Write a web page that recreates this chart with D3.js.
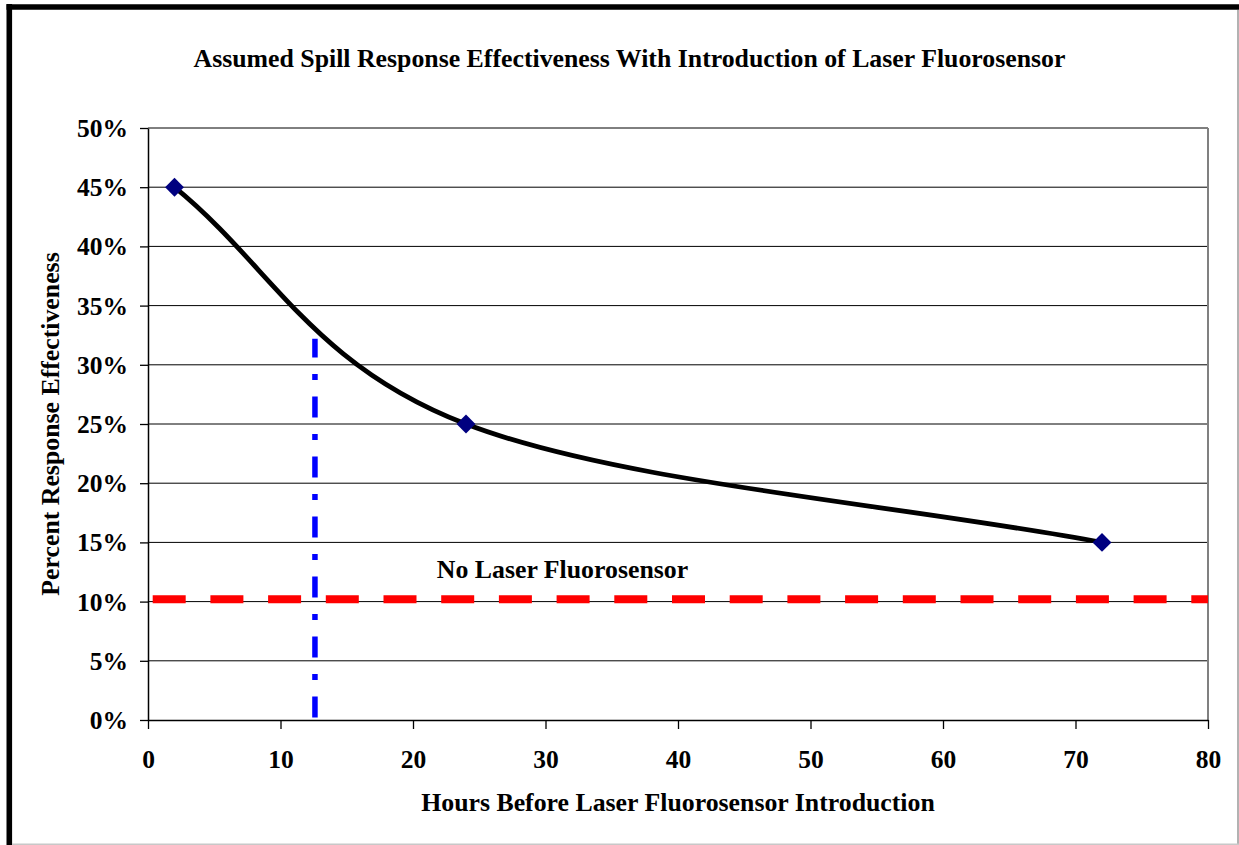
<!DOCTYPE html>
<html>
<head>
<meta charset="utf-8">
<script src="https://cdn.jsdelivr.net/npm/d3@7"></script>
<style>
  body { margin: 0; background: #fff; }
  svg text { font-family: "Liberation Serif", "Times New Roman", serif; font-weight: bold; fill: #000; }
</style>
</head>
<body>
<div id="chart"></div>
<script>
// chart data
var hours = [2, 24, 72];
var effectiveness = [0.45, 0.25, 0.15];
var baselineHours = [0, 80];
var baselineValue = [0.102, 0.102];
var markerHours = [12.6, 12.6];
var markerValue = [0, 0.322];
var xTicks = [0, 10, 20, 30, 40, 50, 60, 70, 80];
var yTicks = [0, 0.05, 0.1, 0.15, 0.2, 0.25, 0.3, 0.35, 0.4, 0.45, 0.5];

var titleText = "Assumed Spill Response Effectiveness With Introduction of Laser Fluorosensor";
var xLabelText = "Hours Before Laser Fluorosensor Introduction";
var yLabelText = "Percent Response Effectiveness";
var baselineLabel = "No Laser Fluorosensor";

// sets chart bounds
var svgWidth = 1239;
var svgHeight = 845;
var margin = { top: 128, right: 31, bottom: 125, left: 148 };
var width = svgWidth - margin.left - margin.right;
var height = svgHeight - margin.top - margin.bottom;

// spreadsheet-style smoothing: catmull-rom inside, end tangents a third of the first/last chord
function curveSmooth(context) {
  var pts;
  return {
    areaStart: function() {},
    areaEnd: function() {},
    lineStart: function() { pts = []; },
    point: function(px, py) { pts.push([+px, +py]); },
    lineEnd: function() {
      var n = pts.length;
      if (!n) return;
      context.moveTo(pts[0][0], pts[0][1]);
      if (n === 1) return;
      if (n === 2) { context.lineTo(pts[1][0], pts[1][1]); return; }
      function tangent(i) {
        if (i === 0) return [(pts[1][0] - pts[0][0]) / 3, (pts[1][1] - pts[0][1]) / 3];
        if (i === n - 1) return [(pts[n - 1][0] - pts[n - 2][0]) / 3, (pts[n - 1][1] - pts[n - 2][1]) / 3];
        return [(pts[i + 1][0] - pts[i - 1][0]) / 6, (pts[i + 1][1] - pts[i - 1][1]) / 6];
      }
      for (var i = 0; i < n - 1; i++) {
        var t0 = tangent(i), t1 = tangent(i + 1);
        context.bezierCurveTo(
          pts[i][0] + t0[0], pts[i][1] + t0[1],
          pts[i + 1][0] - t1[0], pts[i + 1][1] - t1[1],
          pts[i + 1][0], pts[i + 1][1]);
      }
    }
  };
}

var svg = d3.select("#chart")
  .append("svg")
  .attr("width", svgWidth)
  .attr("height", svgHeight);

// outer frame: heavy left/top, light right/bottom
svg.append("line").attr("x1", 9.3).attr("x2", 9.3).attr("y1", 4).attr("y2", 845)
  .attr("stroke", "#000").attr("stroke-width", 5.6);
svg.append("line").attr("x1", 6.5).attr("x2", 1239).attr("y1", 7).attr("y2", 7)
  .attr("stroke", "#000").attr("stroke-width", 5.6);
svg.append("line").attr("x1", 1238).attr("x2", 1238).attr("y1", 10).attr("y2", 845)
  .attr("stroke", "#999").attr("stroke-width", 1.5);
svg.append("line").attr("x1", 12).attr("x2", 1239).attr("y1", 844.3).attr("y2", 844.3)
  .attr("stroke", "#c8c8c8").attr("stroke-width", 1.5);

var chartGroup = svg.append("g")
  .attr("transform", `translate(${margin.left}, ${margin.top})`);

var x = d3.scaleLinear().domain([0, 80]).range([0, width]);
var y = d3.scaleLinear().domain([0, 0.5]).range([height, 0]);

// horizontal gridlines
chartGroup.append("g")
  .selectAll("line")
  .data(yTicks.slice(1))
  .enter()
  .append("line")
  .attr("x1", 0)
  .attr("x2", width)
  .attr("y1", d => y(d))
  .attr("y2", d => y(d))
  .attr("stroke", "#000")
  .attr("stroke-width", 1);

// right border of plot area
chartGroup.append("line")
  .attr("x1", width).attr("x2", width)
  .attr("y1", 0).attr("y2", height)
  .attr("stroke", "#808080")
  .attr("stroke-width", 2);

// axes
var bottomAxis = d3.axisBottom(x).tickValues(xTicks).tickSizeInner(9).tickSizeOuter(0);
var leftAxis = d3.axisLeft(y).tickValues(yTicks).tickFormat(d3.format(".0%"))
  .tickSizeInner(8).tickSizeOuter(0).tickPadding(12);

var xAxis = chartGroup.append("g")
  .attr("transform", `translate(0, ${height})`)
  .call(bottomAxis);
var yAxis = chartGroup.append("g").call(leftAxis);

[xAxis, yAxis].forEach(function(g) {
  g.selectAll(".domain").attr("stroke", "#000").attr("stroke-width", 1.5);
  g.selectAll(".tick line").attr("stroke", "#000").attr("stroke-width", 1.3);
  g.selectAll("text")
    .attr("font-family", "Liberation Serif, Times New Roman, serif")
    .attr("font-weight", "bold")
    .attr("font-size", "25.5px")
    .attr("fill", "#000");
});
xAxis.selectAll("text").attr("y", 48).attr("dy", null);
yAxis.selectAll("text").attr("dy", "0.33em");

// red "no laser fluorosensor" level
var flatLine = d3.line()
  .x(d => x(d[0]))
  .y(d => y(d[1]));

chartGroup.append("path")
  .datum(d3.zip(baselineHours, baselineValue))
  .attr("d", flatLine)
  .attr("fill", "none")
  .attr("stroke", "#ff0000")
  .attr("stroke-width", 8)
  .attr("stroke-dasharray", "33,24.7")
  .attr("stroke-dashoffset", 53);

chartGroup.append("text")
  .attr("x", x(21.8))
  .attr("y", y(baselineValue[0]) - 21.5)
  .attr("font-size", "25.8px")
  .text(baselineLabel);

// blue dash-dot marker line, drawn bottom up
chartGroup.append("path")
  .datum(d3.zip(markerHours, markerValue))
  .attr("d", flatLine)
  .attr("fill", "none")
  .attr("stroke", "#0000ff")
  .attr("stroke-width", 5.5)
  .attr("stroke-dasharray", "21,16.5,6,16.5")
  .attr("stroke-dashoffset", -2.5);

// smoothed effectiveness curve
var curveLine = d3.line()
  .x(d => x(d[0]))
  .y(d => y(d[1]))
  .curve(curveSmooth);

var points = d3.zip(hours, effectiveness);

chartGroup.append("path")
  .datum(points)
  .attr("d", curveLine)
  .attr("fill", "none")
  .attr("stroke", "#000")
  .attr("stroke-width", 4.8);

// diamond markers
chartGroup.selectAll(".pt")
  .data(points)
  .enter()
  .append("path")
  .attr("class", "pt")
  .attr("d", d3.symbol(d3.symbolSquare, 178))
  .attr("transform", d => `translate(${x(d[0])}, ${y(d[1])}) rotate(45)`)
  .attr("fill", "#000080");

// titles
svg.append("text")
  .attr("x", 629.5)
  .attr("y", 67.3)
  .attr("text-anchor", "middle")
  .attr("font-size", "25.8px")
  .text(titleText);

svg.append("text")
  .attr("x", margin.left + width / 2)
  .attr("y", 811)
  .attr("text-anchor", "middle")
  .attr("font-size", "25.8px")
  .text(xLabelText);

svg.append("text")
  .attr("transform", `translate(58.5, ${margin.top + height / 2}) rotate(-90)`)
  .attr("text-anchor", "middle")
  .attr("font-size", "25.8px")
  .text(yLabelText);
</script>
</body>
</html>
